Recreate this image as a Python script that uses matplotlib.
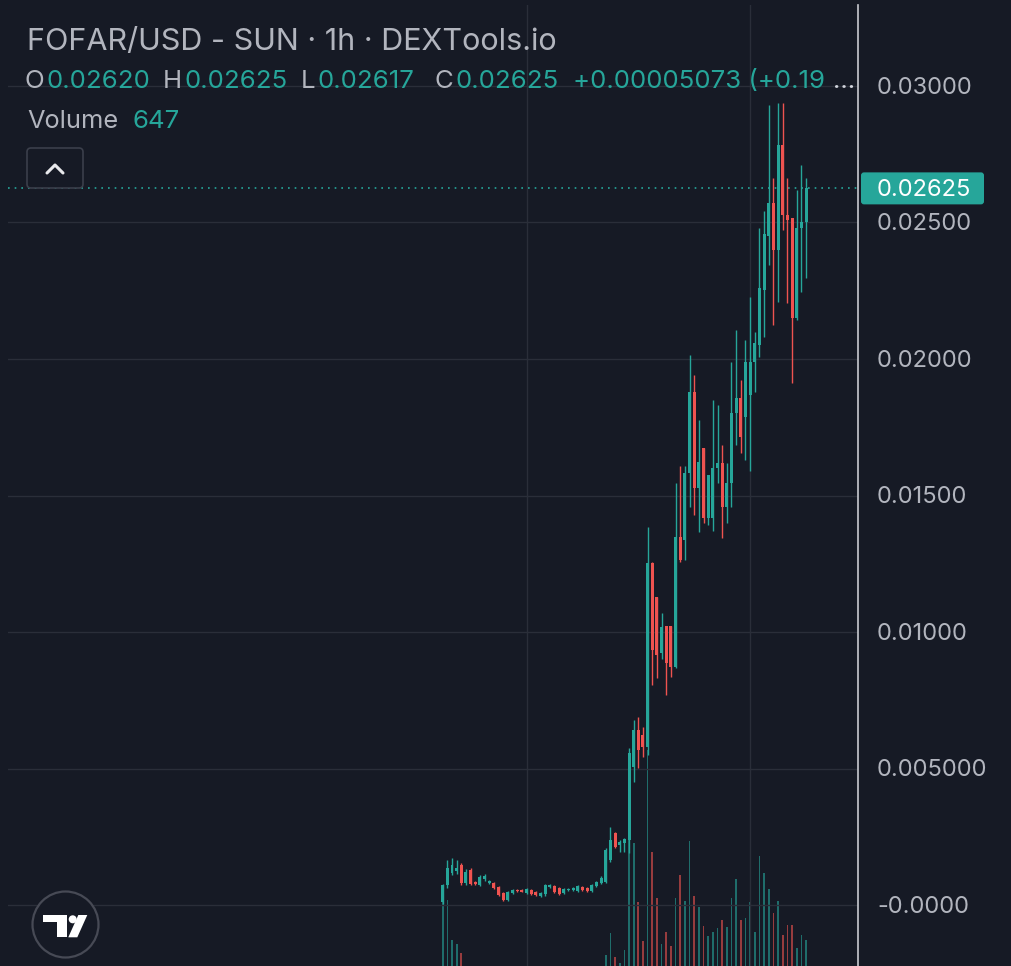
#####################################################################################
# IMPORTS
#####################################################################################

import matplotlib
matplotlib.use('Agg')
import matplotlib.pyplot as plt
from matplotlib.patches import Circle, FancyBboxPatch, Polygon, Rectangle

#####################################################################################
# DATA
#####################################################################################

# hourly candles, FOFAR/USD (price in USD)
opens = [0.00010, 0.00073, 0.00117, 0.00125, 0.00147, 0.00081, 0.00128, 0.00084, 0.00073, 0.00095,
         0.00080, 0.00081, 0.00066, 0.00044, 0.00018, 0.00044, 0.00055, 0.00055, 0.00044, 0.00055,
         0.00048, 0.00033, 0.00040, 0.00066, 0.00070, 0.00062, 0.00044, 0.00055, 0.00055, 0.00051,
         0.00066, 0.00062, 0.00051, 0.00070, 0.00081, 0.00084, 0.00165, 0.00264, 0.00220, 0.00226,
         0.00238, 0.00505, 0.00641, 0.00623, 0.00579, 0.01253, 0.01128, 0.00923, 0.01022, 0.01022,
         0.00872, 0.01348, 0.01337, 0.01582, 0.01879, 0.01528, 0.01674, 0.01418, 0.01418, 0.01601,
         0.01619, 0.01458, 0.01546, 0.01802, 0.01857, 0.01787, 0.01868, 0.01989, 0.02051, 0.02253,
         0.02451, 0.02572, 0.02399, 0.02784, 0.02527, 0.02516, 0.02150, 0.02480, 0.02502]
highs = [0.00077, 0.00165, 0.00172, 0.00165, 0.00154, 0.00132, 0.00136, 0.00088, 0.00110, 0.00113,
         0.00092, 0.00084, 0.00070, 0.00048, 0.00051, 0.00059, 0.00059, 0.00057, 0.00062, 0.00057,
         0.00051, 0.00048, 0.00077, 0.00077, 0.00073, 0.00066, 0.00062, 0.00062, 0.00066, 0.00073,
         0.00070, 0.00066, 0.00077, 0.00088, 0.00106, 0.00209, 0.00286, 0.00267, 0.00238, 0.00245,
         0.00575, 0.00678, 0.00689, 0.00652, 0.01385, 0.01256, 0.01128, 0.01070, 0.01022, 0.01022,
         0.01546, 0.01608, 0.01608, 0.02015, 0.01941, 0.01777, 0.01674, 0.01575, 0.01850, 0.01831,
         0.01685, 0.01619, 0.01989, 0.02107, 0.01923, 0.02070, 0.02227, 0.02099, 0.02480, 0.02542,
         0.02930, 0.02663, 0.02937, 0.02937, 0.02663, 0.02516, 0.02619, 0.02711, 0.02663]
lows = [0.00005, 0.00062, 0.00110, 0.00115, 0.00073, 0.00073, 0.00073, 0.00073, 0.00070, 0.00088,
        0.00077, 0.00059, 0.00033, 0.00015, 0.00015, 0.00040, 0.00048, 0.00046, 0.00040, 0.00037,
        0.00033, 0.00029, 0.00033, 0.00062, 0.00044, 0.00037, 0.00040, 0.00051, 0.00051, 0.00048,
        0.00051, 0.00048, 0.00048, 0.00066, 0.00077, 0.00080, 0.00158, 0.00209, 0.00194, 0.00194,
        0.00190, 0.00451, 0.00502, 0.00542, 0.00550, 0.00806, 0.00832, 0.00901, 0.00769, 0.00835,
        0.00868, 0.01256, 0.01264, 0.01458, 0.01429, 0.01366, 0.01400, 0.01392, 0.01370, 0.01546,
        0.01344, 0.01400, 0.01458, 0.01685, 0.01655, 0.01630, 0.01590, 0.01879, 0.02007, 0.02081,
        0.02344, 0.02124, 0.02209, 0.02472, 0.02205, 0.01912, 0.02143, 0.02245, 0.02296]
closes = [0.00073, 0.00136, 0.00147, 0.00136, 0.00081, 0.00121, 0.00077, 0.00077, 0.00103, 0.00106,
          0.00088, 0.00062, 0.00037, 0.00018, 0.00048, 0.00055, 0.00050, 0.00048, 0.00059, 0.00040,
          0.00037, 0.00044, 0.00073, 0.00073, 0.00048, 0.00040, 0.00059, 0.00059, 0.00062, 0.00070,
          0.00055, 0.00051, 0.00073, 0.00084, 0.00099, 0.00201, 0.00238, 0.00212, 0.00231, 0.00242,
          0.00556, 0.00641, 0.00568, 0.00579, 0.01253, 0.00934, 0.00916, 0.01018, 0.00886, 0.00872,
          0.01348, 0.01264, 0.01582, 0.01879, 0.01528, 0.01623, 0.01418, 0.01575, 0.01601, 0.01619,
          0.01458, 0.01546, 0.01802, 0.01857, 0.01714, 0.01989, 0.01989, 0.02059, 0.02260, 0.02458,
          0.02572, 0.02399, 0.02784, 0.02527, 0.02509, 0.02150, 0.02480, 0.02502, 0.02625]
volumes = [1132, 1078, 647, 604, 507, 270, 216, 162, 194, 162,
           129, 162, 216, 162, 194, 108, 75, 75, 108, 75,
           108, 108, 162, 86, 108, 108, 86, 54, 75, 108,
           75, 75, 129, 162, 270, 485, 722, 464, 399, 539,
           1725, 1692, 1056, 636, 2695, 1595, 1100, 604, 733, 582,
           1100, 1348, 1067, 1714, 1121, 1003, 798, 690, 733, 776,
           862, 787, 1100, 1304, 862, 884, 1056, 733, 1552, 1369,
           1197, 938, 1067, 701, 809, 809, 561, 701, 647]

# price scale labels on the right
price_ticks = [0.03, 0.025, 0.02, 0.015, 0.01, 0.005, 0.0]
price_labels = ['0.03000', '0.02500', '0.02000', '0.01500', '0.01000', '0.005000', '-0.0000']
last_price = 0.02625
day_breaks = [18, 66]

# header legend
title = 'FOFAR/USD - SUN · 1h · DEXTools.io'
ohlc_names = ['O', 'H', 'L', 'C']
ohlc_values = ['0.02620', '0.02625', '0.02617', '0.02625']
change_text = '+0.00005073 (+0.19'
volume_text = '647'

#####################################################################################
# STYLE
#####################################################################################

BG = '#161a25'
UP = '#26a69a'
DOWN = '#ef5350'
GRID = '#2a2e39'
TEXT = '#b2b5be'

plt.rcParams['font.family'] = ['Inter', 'DejaVu Sans']

W, H = 1012, 966
fig = plt.figure(figsize=(W / 100, H / 100), dpi=100, facecolor=BG)

# chart pane: x 8..858 px, y 5..966 px
ax = fig.add_axes([8 / W, 0, 850 / W, 961 / H])
vax = ax.twinx()

#####################################################################################
# VOLUME (behind candles)
#####################################################################################

idx = list(range(len(closes)))
up = [c >= o for o, c in zip(opens, closes)]
vcol = [UP if u else DOWN for u in up]

vax.bar(idx, volumes, width=0.36, color=vcol, alpha=0.6, linewidth=0)
vax.set_ylim(366.5, 10726)
vax.axis('off')
vax.set_zorder(0)
ax.set_zorder(1)
ax.patch.set_visible(False)
vax.patch.set_facecolor(BG)

#####################################################################################
# CANDLES
#####################################################################################

# grid
for p in price_ticks:
    ax.axhline(p, color=GRID, lw=1, zorder=0)
for d in day_breaks:
    ax.axvline(d, color=GRID, lw=1, zorder=0)

ax.vlines(idx, lows, highs, colors=vcol, lw=1.0, zorder=2)
bottoms = [min(o, c) for o, c in zip(opens, closes)]
heights = [max(abs(c - o), 0.00004) for o, c in zip(opens, closes)]
ax.bar(idx, heights, bottom=bottoms, width=0.64, color=vcol, linewidth=0, zorder=3)

# last price dotted line
ax.axhline(last_price, color=UP, lw=1.2, linestyle=(0, (1, 3)), zorder=1)

ax.set_xlim(-93.32, 89.16)
ax.set_ylim(-0.0022344, 0.032967)
ax.axis('off')

#####################################################################################
# OVERLAY (text, price scale, logo) in pixel coordinates
#####################################################################################

ov = fig.add_axes([0, 0, 1, 1])
ov.set_xlim(0, W)
ov.set_ylim(H, 0)
ov.axis('off')
ov.set_zorder(5)
ov.patch.set_visible(False)

# price scale separator
ov.plot([858, 858], [5, H], color='#c8cad0', lw=1.2)

# price scale labels
for p, lab in zip(price_ticks, price_labels):
    y = 905 - p / 3.663e-5
    ov.text(877, y + 8, lab, color=TEXT, fontsize=17, va='baseline', ha='left')

# last price tag
y_last = 905 - last_price / 3.663e-5
ov.add_patch(FancyBboxPatch((861, y_last - 16), 123, 32, boxstyle='round,pad=0,rounding_size=3',
                            facecolor=UP, edgecolor='none'))
ov.text(877, y_last + 8, '0.02625', color='white', fontsize=17, va='baseline', ha='left')

# header
ov.text(27, 50, title, color=TEXT, fontsize=22, va='baseline')
x_pos = [(25, 47), (163, 185), (301, 318), (435, 456)]
for (xn, xv), n, v in zip(x_pos, ohlc_names, ohlc_values):
    ov.text(xn, 88, n, color=TEXT, fontsize=18.6, va='baseline')
    ov.text(xv, 88, v, color=UP, fontsize=18.6, va='baseline')
ov.text(573, 88, change_text, color=UP, fontsize=18.6, va='baseline')
ov.text(833, 88, '...', color='#d1d4dc', fontsize=18.6, va='baseline')
ov.text(27, 128, 'Volume', color=TEXT, fontsize=18.3, va='baseline')
ov.text(133, 128, volume_text, color=UP, fontsize=18.6, va='baseline')

# collapse button
ov.add_patch(FancyBboxPatch((27, 148), 56, 40, boxstyle='round,pad=0,rounding_size=4',
                            facecolor=BG, edgecolor='#3b3f4b', lw=1.2))
ov.plot([47, 55, 63], [173, 165, 173], color='#e8e9ec', lw=2.2, solid_capstyle='round')

# TradingView logo
ov.add_patch(Circle((65.5, 924.5), 33, facecolor=BG, edgecolor='#474a55', lw=1.6))
ov.add_patch(Rectangle((43.3, 915), 23.4, 7.3, facecolor='white', edgecolor='none'))
ov.add_patch(Rectangle((56.7, 915), 10, 22.3, facecolor='white', edgecolor='none'))
ov.add_patch(Circle((72.7, 919.3), 4, facecolor='white', edgecolor='none'))
ov.add_patch(Polygon([(68.3, 937.3), (77.3, 937.3), (87.3, 915), (78.3, 915)],
                     closed=True, facecolor='white', edgecolor='none'))

plt.savefig('out.png', dpi=100, facecolor=BG)
